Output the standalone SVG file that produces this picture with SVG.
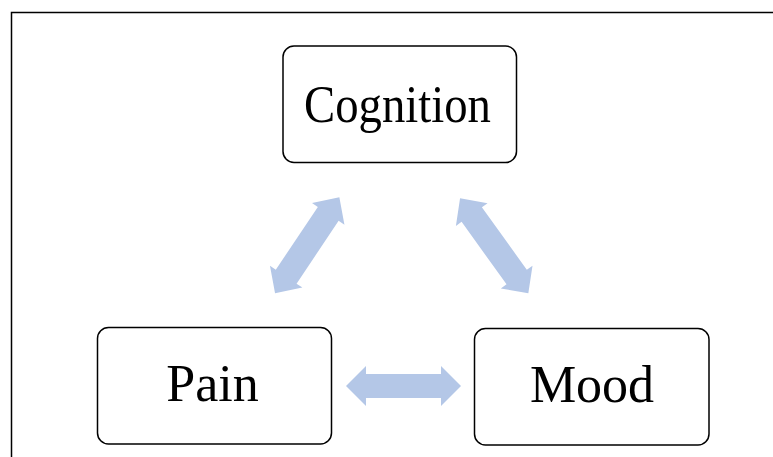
<svg xmlns="http://www.w3.org/2000/svg" width="773" height="457" viewBox="0 0 773 457">
<defs>
<style>
.box{fill:#fff;stroke:#000;stroke-width:1.5}
.lbl{font-family:"Liberation Serif","Times New Roman",serif;font-size:52px;fill:#000;text-anchor:middle}
.arr{fill:#B4C7E7}
</style>
</defs>
<rect x="0" y="0" width="773" height="457" fill="#fff"/>
<rect x="11.5" y="12.5" width="780" height="460" fill="none" stroke="#000" stroke-width="1.5"/>
<g id="connectors">
<polygon class="arr" transform="translate(403.5,386)" points="-57.5,0 -37.5,-20 -37.5,-12 37.5,-12 37.5,-20 57.5,0 37.5,20 37.5,12 -37.5,12 -37.5,20"/>
<polygon class="arr" transform="translate(307.2,245.3) rotate(-56.2)" points="-57.8,0 -37.8,-19.5 -37.8,-12.5 37.8,-12.5 37.8,-19.5 57.8,0 37.8,19.5 37.8,12.5 -37.8,12.5 -37.8,19.5"/>
<polygon class="arr" transform="translate(494.2,245.8) rotate(54.3)" points="-58.5,0 -38.5,-19.5 -38.5,-12.5 38.5,-12.5 38.5,-19.5 58.5,0 38.5,19.5 38.5,12.5 -38.5,12.5 -38.5,19.5"/>
</g>
<g id="cognition">
<rect class="box" x="283" y="46" width="233.5" height="116.5" rx="11"/>
<text class="lbl" x="397.5" y="122" textLength="187" lengthAdjust="spacingAndGlyphs">Cognition</text>
</g>
<g id="pain">
<rect class="box" x="97.5" y="327.5" width="234" height="116.5" rx="11"/>
<text class="lbl" x="212.5" y="401">Pain</text>
</g>
<g id="mood">
<rect class="box" x="474.5" y="328.5" width="234.5" height="116.5" rx="11"/>
<text class="lbl" x="592" y="402">Mood</text>
</g>
</svg>
